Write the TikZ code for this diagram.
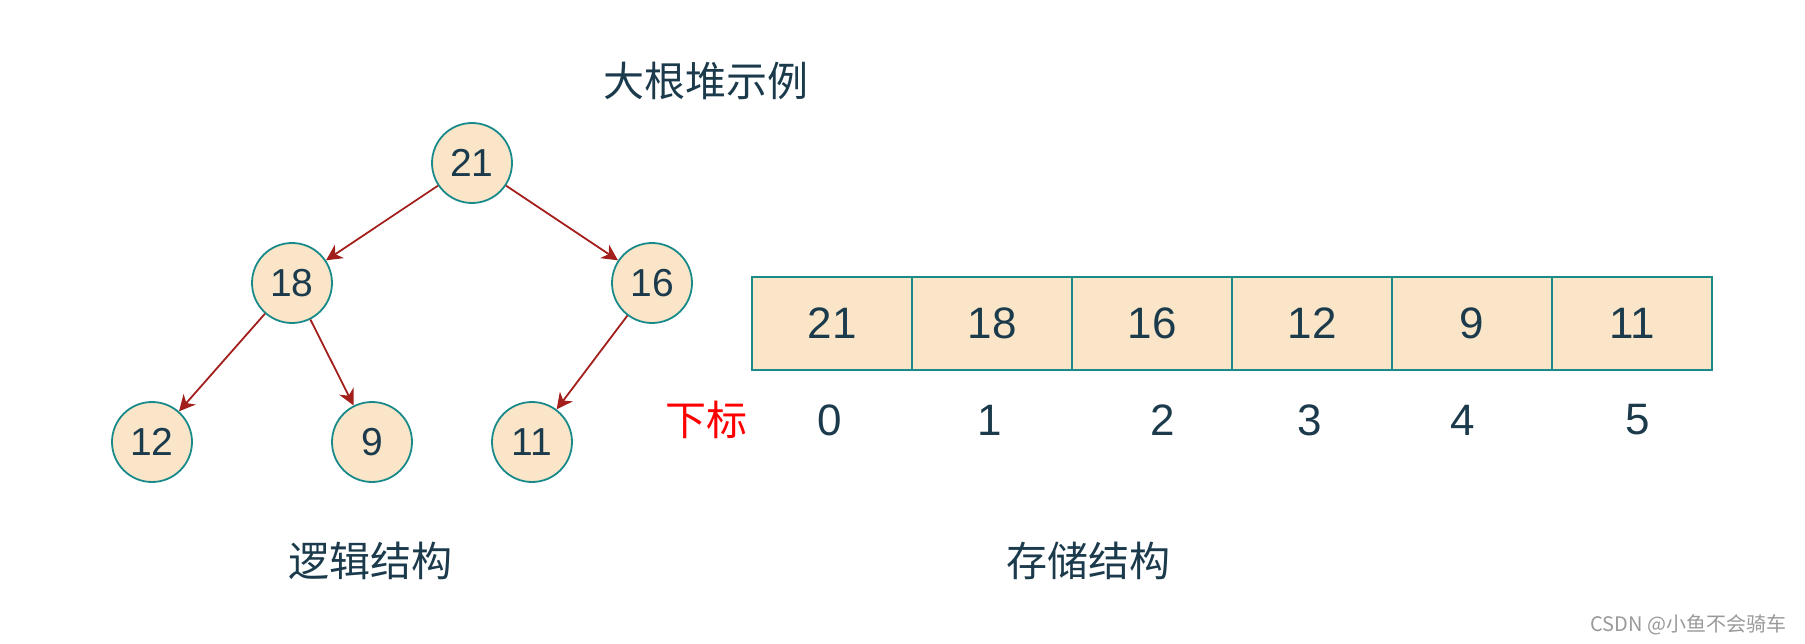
\documentclass[tikz,border=0pt]{standalone}
\usepackage{fontspec}
\setmainfont{Liberation Sans}
\newfontfamily\cjk{Noto Sans CJK SC}
\usetikzlibrary{arrows.meta, positioning}

\definecolor{heapfill}{HTML}{FAE5C8}
\definecolor{heapline}{HTML}{188A8A}
\definecolor{heaparrow}{HTML}{A21F1C}
\definecolor{heaptext}{HTML}{1B3A4B}

\begin{document}
\begin{tikzpicture}[x=1pt, y=-1pt,
        heapnode/.style={circle, draw=heapline, fill=heapfill, line width=1.8pt, minimum size=80pt, inner sep=0pt, text=heaptext, font=\fontsize{39}{39}\selectfont},
        cell/.style={rectangle, draw=heapline, fill=heapfill, line width=1.8pt, minimum width=160pt, minimum height=93pt, inner sep=0pt, outer sep=0pt, text=heaptext, font=\fontsize{44}{44}\selectfont},
        index/.style={text=heaptext, font=\fontsize{44}{44}\selectfont},
        link/.style={-{Stealth[length=16pt, width=16pt, inset=5pt]}, heaparrow, line width=1.8pt},
        caption/.style={text=heaptext, font=\cjk\fontsize{41}{41}\selectfont}]

        \useasboundingbox (0,0) rectangle (1805,644);

        % Tree
        \node[heapnode] (n21) at (472,163) {21};
        \node[heapnode] (n18) at (292,283) {18};
        \node[heapnode] (n16) at (652,283) {16};
        \node[heapnode] (n12) at (152,442) {12};
        \node[heapnode] (n9) at (372,442) {9};
        \node[heapnode] (n11) at (532,442) {11};

        \draw[link] (n21) -- (n18);
        \draw[link] (n21) -- (n16);
        \draw[link] (n18) -- (n12);
        \draw[link] (n18) -- (n9);
        \draw[link] (n16) -- (n11);

        % Array
        \node[cell] (c0) at (832,323.5) {21};
        \node[cell, right=0pt of c0] (c1) {18};
        \node[cell, right=0pt of c1] (c2) {16};
        \node[cell, right=0pt of c2] (c3) {12};
        \node[cell, right=0pt of c3] (c4) {9};
        \node[cell, right=0pt of c4] (c5) {11};

        % Indices
        \node[text=red, font=\cjk\fontsize{41}{41}\selectfont] (idx) at (706,420) {下标};
        \node[index] (i0) at (830,420) {0};
        \node[index] (i1) at (990,420) {1};
        \node[index] (i2) at (1163,420) {2};
        \node[index] (i3) at (1310,420) {3};
        \node[index] (i4) at (1463,420) {4};
        \node[index] (i5) at (1638,420) {5};

        % Labels
        \node[caption] (title) at (706,81) {大根堆示例};
        \node[caption] (logic) at (370,561) {逻辑结构};
        \node[caption] (store) at (1088,561) {存储结构};
        \node[text=black!40, font=\cjk\fontsize{20}{20}\selectfont, anchor=east] (mark) at (1790,625) {CSDN @小鱼不会骑车};

    \end{tikzpicture}
\end{document}
